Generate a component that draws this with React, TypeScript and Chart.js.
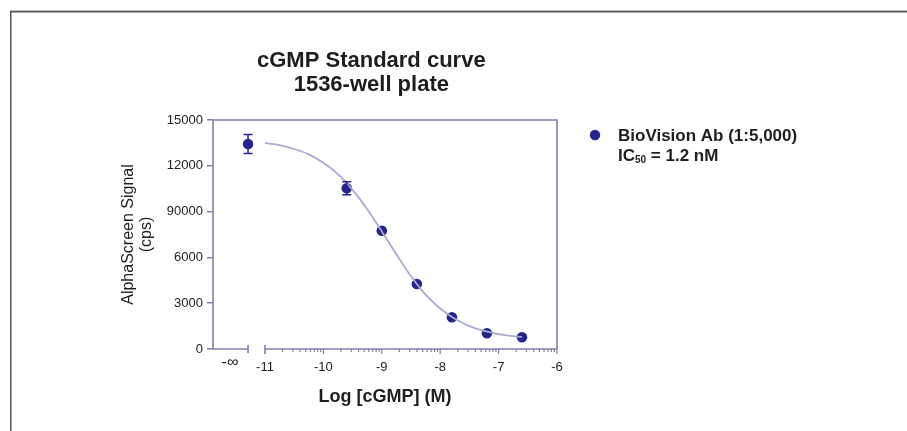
import React, { useEffect, useRef } from 'react';
import { Chart, registerables } from 'chart.js';

Chart.register(...registerables);

// ---- text ----
const TITLE_LINES = ['cGMP Standard curve', '1536-well plate'];
const X_TITLE = 'Log [cGMP] (M)';
const Y_TITLE_LINES = ['AlphaScreen Signal', '(cps)'];
const LEGEND_LINE1 = 'BioVision Ab (1:5,000)';
const LEGEND_IC = 'IC';
const LEGEND_SUB = '50';
const LEGEND_REST = ' = 1.2 nM';

// ---- axes ----
const X_MIN = -11.89;
const X_MAX = -6;
const INF_POS = -11.29; // position used for the zero-dose ("-∞") point
const INF_LABEL_POS = -11.6;
const MAIN_AXIS_START = -11;
const X_TICKS = [INF_LABEL_POS, -11, -10, -9, -8, -7, -6];
const X_TICK_LABELS = ['-∞', '-11', '-10', '-9', '-8', '-7', '-6'];
const Y_MIN = 0;
const Y_MAX = 15000;
const Y_TICKS = [0, 3000, 6000, 9000, 12000, 15000];
const Y_TICK_LABELS = ['0', '3000', '6000', '90000', '12000', '15000'];

// ---- data ----
const DOSE_LOG = [INF_POS, -9.6, -9.0, -8.4, -7.8, -7.2, -6.6];
const SIGNAL = [13430, 10530, 7750, 4260, 2080, 1030, 770];
const SIGNAL_ERR = [620, 430, 0, 0, 0, 0, 0];
const FIT_LOG = [-11, -10.75, -10.5, -10.25, -10, -9.75, -9.5, -9.25, -9, -8.75, -8.5, -8.25, -8, -7.75, -7.5, -7.25, -7, -6.8, -6.6];
const FIT_SIGNAL = [13500, 13350, 13100, 12750, 12200, 11450, 10420, 9150, 7700, 6200, 4760, 3560, 2650, 1980, 1500, 1180, 970, 860, 780];

// ---- style ----
const FONT = '"Liberation Sans", Arial, Helvetica, sans-serif';
const AXIS_COLOR = '#8080aa';
const CURVE_COLOR = '#a9a9d2';
const POINT_COLOR = '#25258c';
const TEXT_COLOR = '#1e1e1e';

const decorPlugin = {
  id: 'decor',
  afterDraw(chart: any) {
    const ctx = chart.ctx as CanvasRenderingContext2D;
    const xs = chart.scales.x;
    const ys = chart.scales.y;
    const ca = chart.chartArea;
    ctx.save();

    // outer frame
    ctx.fillStyle = '#c4c4c4';
    ctx.fillRect(10, 10, 897, 1);
    ctx.fillStyle = '#555555';
    ctx.fillRect(10, 11, 897, 1.5);
    ctx.fillRect(10, 11, 1.5, 420);

    // axis frame
    ctx.strokeStyle = AXIS_COLOR;
    ctx.lineWidth = 1.6;
    const top = ys.getPixelForValue(Y_MAX);
    const bottom = ys.getPixelForValue(Y_MIN);
    const left = xs.getPixelForValue(X_MIN);
    const right = xs.getPixelForValue(X_MAX);
    ctx.beginPath();
    ctx.moveTo(left, bottom);
    ctx.lineTo(left, top);
    ctx.lineTo(right, top);
    ctx.lineTo(right, bottom);
    ctx.stroke();

    // broken x axis
    const infEnd = xs.getPixelForValue(INF_POS);
    const mainStart = xs.getPixelForValue(MAIN_AXIS_START);
    ctx.beginPath();
    ctx.moveTo(left, bottom);
    ctx.lineTo(infEnd, bottom);
    ctx.moveTo(infEnd, bottom - 4);
    ctx.lineTo(infEnd, bottom + 4);
    ctx.moveTo(mainStart, bottom);
    ctx.lineTo(right, bottom);
    ctx.moveTo(mainStart, bottom - 4);
    ctx.lineTo(mainStart, bottom + 5);
    ctx.stroke();

    // log ticks
    ctx.lineWidth = 1.2;
    ctx.beginPath();
    for (let d = MAIN_AXIS_START; d < X_MAX; d++) {
      for (let m = 2; m <= 9; m++) {
        const px = xs.getPixelForValue(d + Math.log10(m));
        ctx.moveTo(px, bottom);
        ctx.lineTo(px, bottom + 3);
      }
      const pxMajor = xs.getPixelForValue(d + 1);
      ctx.moveTo(pxMajor, bottom);
      ctx.lineTo(pxMajor, bottom + 5);
    }
    ctx.stroke();

    // "-∞" label of the axis break
    ctx.fillStyle = TEXT_COLOR;
    ctx.font = `16px ${FONT}`;
    ctx.textAlign = 'center';
    ctx.textBaseline = 'middle';
    ctx.fillText(X_TICK_LABELS[0], xs.getPixelForValue(INF_LABEL_POS), 363);

    // error bars
    ctx.strokeStyle = POINT_COLOR;
    ctx.lineWidth = 1.5;
    ctx.beginPath();
    DOSE_LOG.forEach((xv, i) => {
      const e = SIGNAL_ERR[i];
      if (!e) return;
      const px = xs.getPixelForValue(xv);
      const y1 = ys.getPixelForValue(SIGNAL[i] + e);
      const y2 = ys.getPixelForValue(SIGNAL[i] - e);
      ctx.moveTo(px, y1);
      ctx.lineTo(px, y2);
      ctx.moveTo(px - 4.5, y1);
      ctx.lineTo(px + 4.5, y1);
      ctx.moveTo(px - 4.5, y2);
      ctx.lineTo(px + 4.5, y2);
    });
    ctx.stroke();

    // title
    ctx.fillStyle = TEXT_COLOR;
    ctx.font = `bold 22px ${FONT}`;
    ctx.textBaseline = 'alphabetic';
    ctx.textAlign = 'center';
    const w1 = ctx.measureText(TITLE_LINES[0]).width;
    const tcx = 257 + w1 / 2;
    ctx.fillText(TITLE_LINES[0], tcx, 67);
    ctx.fillText(TITLE_LINES[1], tcx, 91);

    // x title
    ctx.font = `bold 18px ${FONT}`;
    ctx.textBaseline = 'middle';
    ctx.fillText(X_TITLE, (ca.left + ca.right) / 2, 397);

    // y title
    ctx.font = `16px ${FONT}`;
    const cy = (ca.top + ca.bottom) / 2;
    ctx.save();
    ctx.translate(129, cy);
    ctx.rotate(-Math.PI / 2);
    ctx.fillText(Y_TITLE_LINES[0], 0, 0);
    ctx.restore();
    ctx.save();
    ctx.translate(147, cy);
    ctx.rotate(-Math.PI / 2);
    ctx.fillText(Y_TITLE_LINES[1], 0, 0);
    ctx.restore();

    // legend
    ctx.fillStyle = POINT_COLOR;
    ctx.beginPath();
    ctx.arc(595, 135, 5.2, 0, Math.PI * 2);
    ctx.fill();
    ctx.fillStyle = TEXT_COLOR;
    ctx.textAlign = 'left';
    ctx.textBaseline = 'alphabetic';
    ctx.font = `bold 17px ${FONT}`;
    ctx.fillText(LEGEND_LINE1, 618, 141);
    let lx = 618;
    ctx.fillText(LEGEND_IC, lx, 161);
    lx += ctx.measureText(LEGEND_IC).width;
    ctx.font = `bold 10px ${FONT}`;
    ctx.fillText(LEGEND_SUB, lx, 163);
    lx += ctx.measureText(LEGEND_SUB).width;
    ctx.font = `bold 17px ${FONT}`;
    ctx.fillText(LEGEND_REST, lx, 161);

    ctx.restore();
  },
};

export default function App() {
  const ref = useRef<HTMLCanvasElement | null>(null);
  useEffect(() => {
    if (!ref.current) return;
    const chart = new Chart(ref.current, {
      type: 'scatter',
      data: {
        datasets: [
          {
            type: 'line',
            data: FIT_LOG.map((x, i) => ({ x, y: FIT_SIGNAL[i] })),
            borderColor: CURVE_COLOR,
            borderWidth: 1.8,
            pointRadius: 0,
            cubicInterpolationMode: 'monotone',
            fill: false,
          } as any,
          {
            data: DOSE_LOG.map((x, i) => ({ x, y: SIGNAL[i] })),
            backgroundColor: POINT_COLOR,
            borderColor: POINT_COLOR,
            borderWidth: 0,
            pointRadius: 5.3,
          },
        ],
      },
      options: {
        responsive: false,
        animation: false,
        devicePixelRatio: 1,
        layout: { padding: { top: 120, right: 350, left: 0, bottom: 0 } },
        plugins: { legend: { display: false }, tooltip: { enabled: false }, title: { display: false } },
        scales: {
          x: {
            type: 'linear',
            min: X_MIN,
            max: X_MAX,
            afterBuildTicks: (s: any) => {
              s.ticks = X_TICKS.map((v) => ({ value: v }));
            },
            afterFit: (s: any) => {
              s.height = 82;
            },
            ticks: {
              autoSkip: false,
              maxRotation: 0,
              padding: 11,
              color: (c: any) => (c.index === 0 ? 'rgba(0,0,0,0)' : TEXT_COLOR),
              font: { family: FONT, size: 13 },
              callback: (_v: any, i: number) => X_TICK_LABELS[i],
            },
            grid: { display: false, drawTicks: false },
            border: { display: false },
          },
          y: {
            type: 'linear',
            min: Y_MIN,
            max: Y_MAX,
            afterBuildTicks: (s: any) => {
              s.ticks = Y_TICKS.map((v) => ({ value: v }));
            },
            afterFit: (s: any) => {
              s.width = 213;
            },
            ticks: {
              padding: 4,
              color: TEXT_COLOR,
              font: { family: FONT, size: 13 },
              callback: (_v: any, i: number) => Y_TICK_LABELS[i],
            },
            grid: { drawOnChartArea: false, drawTicks: true, tickLength: 6, color: AXIS_COLOR, lineWidth: 1.5 },
            border: { display: false },
          },
        },
      },
      plugins: [decorPlugin],
    });
    return () => chart.destroy();
  }, []);
  return (
    <div style={{ position: 'fixed', left: 0, top: 0, width: 907, height: 431, background: '#fff' }}>
      <canvas ref={ref} width={907} height={431} style={{ display: 'block' }} />
    </div>
  );
}
